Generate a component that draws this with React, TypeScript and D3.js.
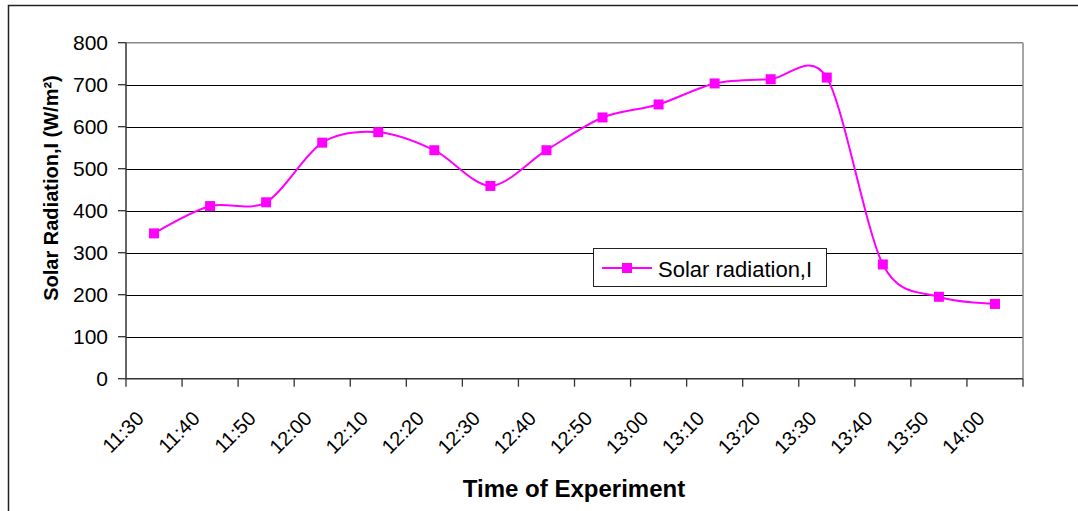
import React from 'react';
import * as d3 from 'd3';

const categories = ['11:30','11:40','11:50','12:00','12:10','12:20','12:30','12:40','12:50','13:00','13:10','13:20','13:30','13:40','13:50','14:00'];
const radiation = [346, 411, 420, 562, 587, 544, 459, 544, 622, 653, 703, 713, 717, 272, 195, 178];
const yTicks = [0, 100, 200, 300, 400, 500, 600, 700, 800];
const seriesName = 'Solar radiation,I';
const yTitle = 'Solar Radiation,I (W/m\u00B2)';
const xTitle = 'Time of Experiment';

const W = 1078, H = 511;
const left = 126, right = 1023, top = 42.7, bottom = 378.7;
const MAG = '#FF00FF';
const FONT = 'Arial, "Liberation Sans", sans-serif';

export default function App() {
  const x = d3.scaleBand<string>().domain(categories).range([left, right]).padding(0);
  const y = d3.scaleLinear().domain([0, 800]).range([bottom, top]);
  const bw = x.bandwidth();
  const cx = (c: string) => (x(c) as number) + bw / 2;
  const pts = categories.map((c, i) => [cx(c), y(radiation[i])] as [number, number]);
  const line = d3.line<[number, number]>().x(d => d[0]).y(d => d[1]).curve(d3.curveCardinal.tension(0.1));
  const boundaries = categories.map(c => x(c) as number).concat([right]);
  const ms = 10;

  return (
    <svg width={W} height={H} style={{ position: 'absolute', left: 0, top: 0, display: 'block' }} fontFamily={FONT}>
      <rect x={0} y={0} width={W} height={H} fill="#fff" />
      {/* outer chart border */}
      <rect x={8.5} y={5.5} width={1075} height={520} fill="none" stroke="#222" strokeWidth={1.5} />
      {/* gridlines */}
      {yTicks.filter(t => t > 0 && t < 800).map(t => (
        <line key={t} x1={left} x2={right} y1={Math.round(y(t)) + 0.5} y2={Math.round(y(t)) + 0.5} stroke="#000" strokeWidth={1} />
      ))}
      {/* plot border top & right */}
      <line x1={left} x2={right} y1={top} y2={top} stroke="#888" strokeWidth={1.5} />
      <line x1={right} x2={right} y1={top} y2={bottom} stroke="#888" strokeWidth={1.5} />
      {/* y axis */}
      <line x1={left} x2={left} y1={top} y2={bottom} stroke="#333" strokeWidth={1.5} />
      {yTicks.map(t => (
        <g key={t}>
          <line x1={left - 8} x2={left} y1={y(t)} y2={y(t)} stroke="#333" strokeWidth={1.3} />
          <text x={108} y={y(t)} dy="0.36em" textAnchor="end" fontSize={21} fill="#000">{t}</text>
        </g>
      ))}
      {/* x axis */}
      <line x1={left} x2={right} y1={bottom} y2={bottom} stroke="#333" strokeWidth={1.5} />
      {boundaries.map((b, i) => (
        <line key={i} x1={b} x2={b} y1={bottom} y2={bottom + 8} stroke="#333" strokeWidth={1.3} />
      ))}
      {categories.map(c => (
        <text key={c} transform={`translate(${cx(c) - 9},${bottom + 41}) rotate(-45)`} textAnchor="end" fontSize={20} fill="#000">{c}</text>
      ))}
      {/* series */}
      <path d={line(pts) || ''} fill="none" stroke={MAG} strokeWidth={2} />
      {pts.map((p, i) => (
        <rect key={i} x={p[0] - ms / 2} y={p[1] - ms / 2} width={ms} height={ms} fill={MAG} />
      ))}
      {/* titles */}
      <text transform={`translate(58,188) rotate(-90)`} textAnchor="middle" fontSize={20} fontWeight="bold" fill="#000">{yTitle}</text>
      <text x={574} y={497} textAnchor="middle" fontSize={24} fontWeight="bold" fill="#000">{xTitle}</text>
      {/* legend */}
      <rect x={593.5} y={248.5} width={233} height={38} fill="#fff" stroke="#222" strokeWidth={1} />
      <line x1={602} x2={652} y1={268} y2={268} stroke={MAG} strokeWidth={2} />
      <rect x={627 - ms / 2} y={268 - ms / 2} width={ms} height={ms} fill={MAG} />
      <text x={658} y={277} fontSize={22} fill="#000">{seriesName}</text>
    </svg>
  );
}
